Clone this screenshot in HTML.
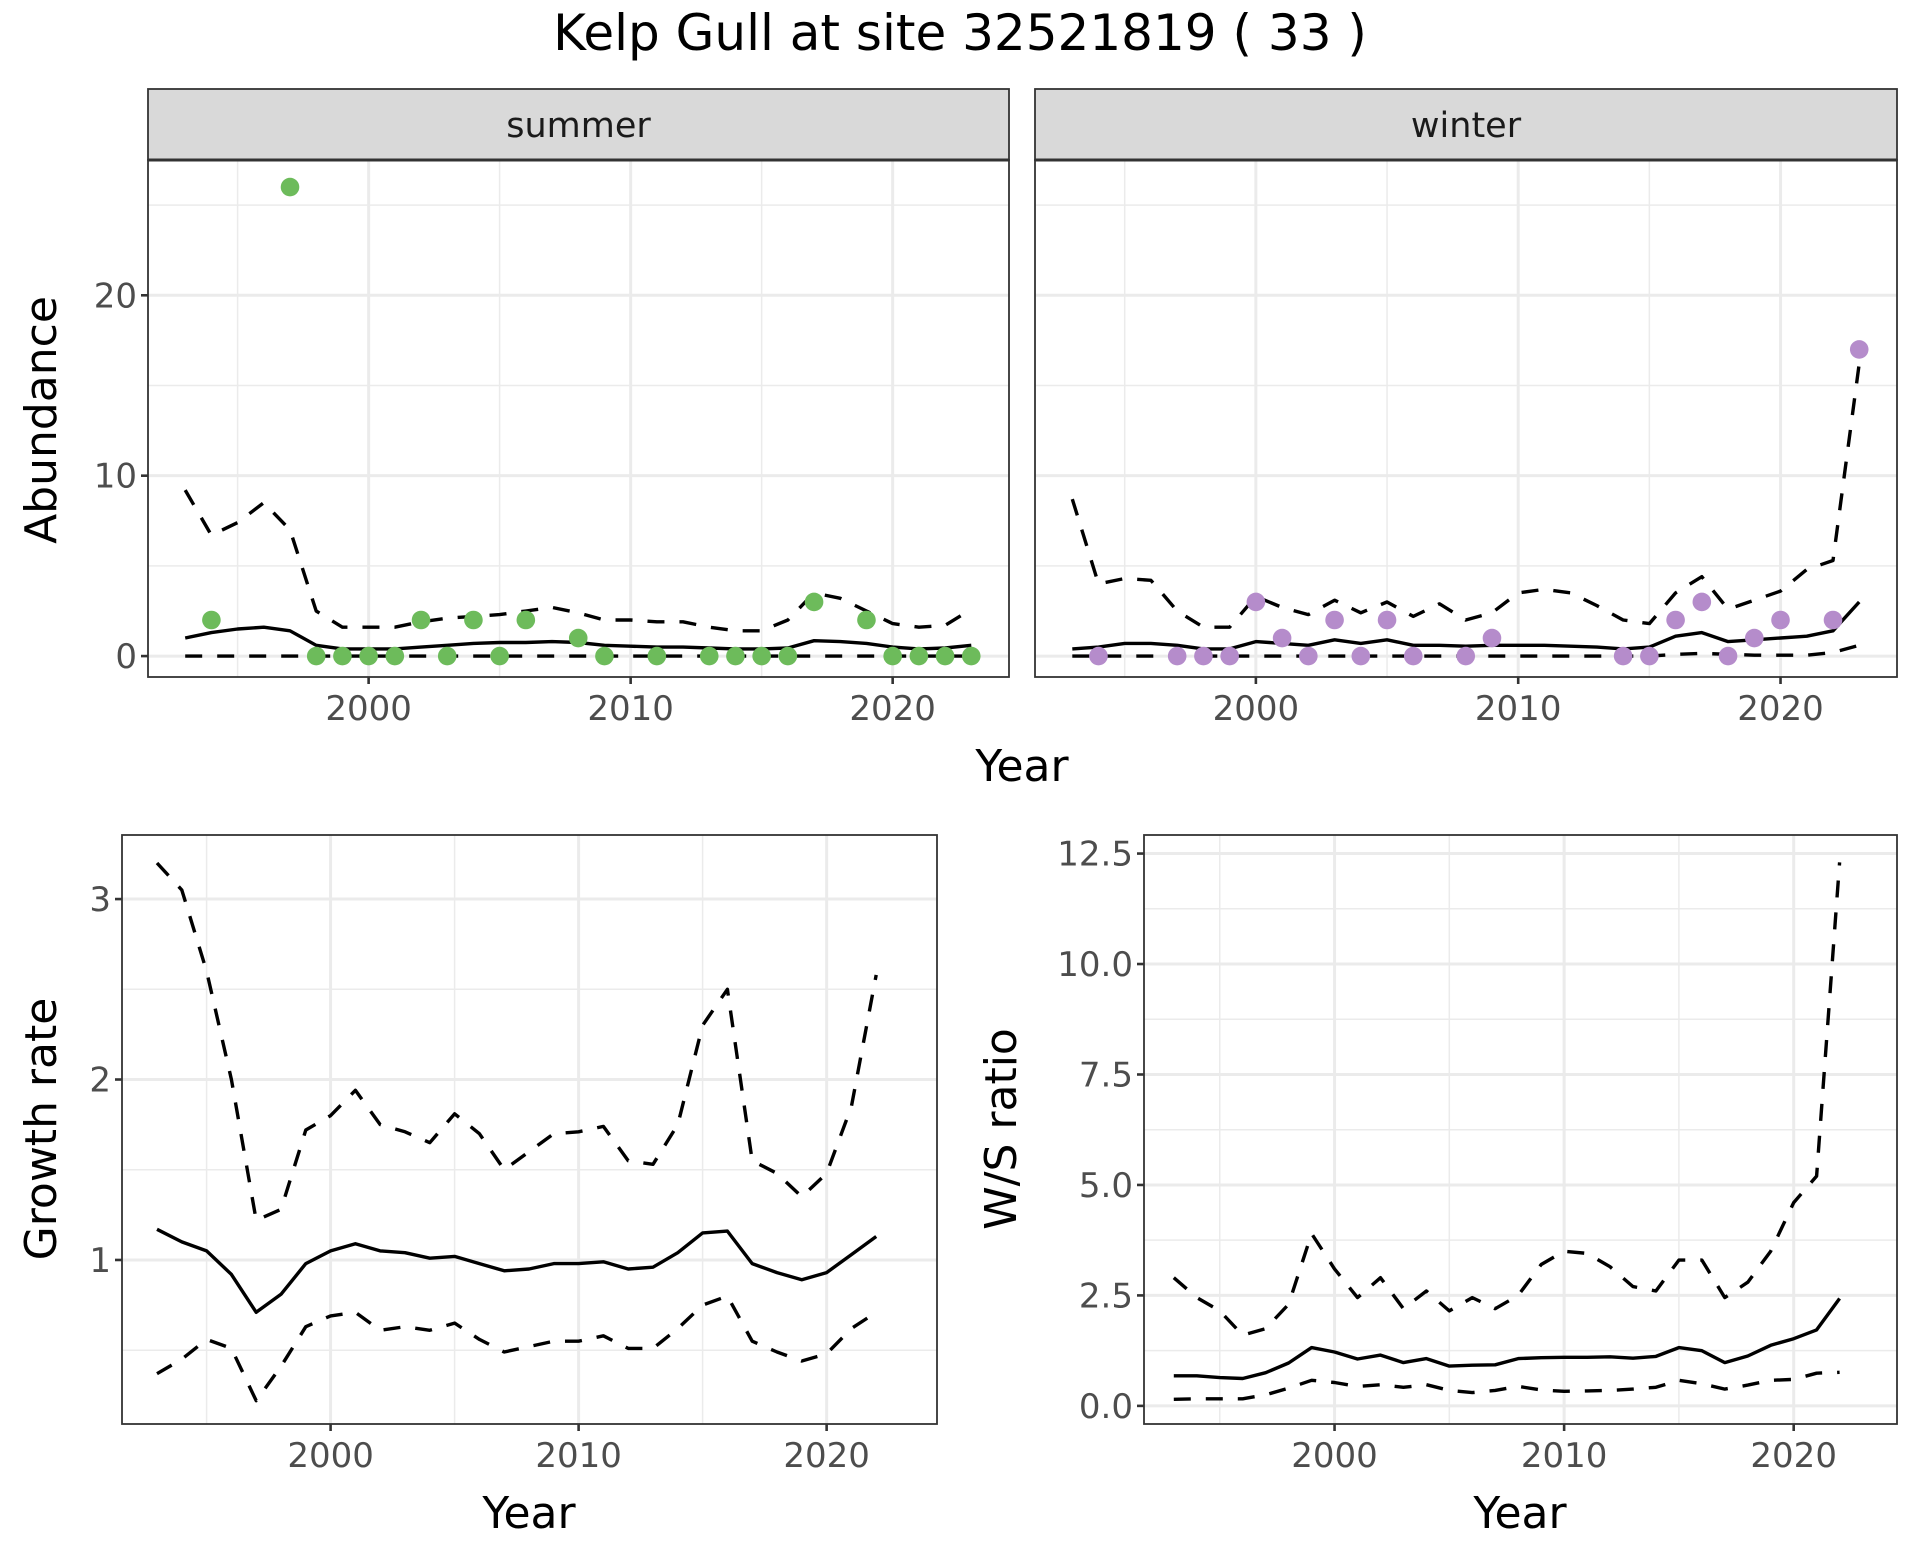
<!DOCTYPE html>
<html><head><meta charset="utf-8"><style>
html,body{margin:0;padding:0;background:#fff}
svg text{font-family:"DejaVu Sans","Liberation Sans",sans-serif}
</style></head><body>
<svg id="chart" width="1920" height="1560" viewBox="0 0 1920 1560" xmlns="http://www.w3.org/2000/svg">
<rect width="1920" height="1560" fill="#fff"/>
<text x="960" y="50" text-anchor="middle" font-size="50" fill="#000">Kelp Gull at site 32521819 ( 33 )</text>
</svg>
<script>
const yearsA = [1993,1994,1995,1996,1997,1998,1999,2000,2001,2002,2003,2004,2005,2006,2007,2008,2009,2010,2011,2012,2013,2014,2015,2016,2017,2018,2019,2020,2021,2022,2023];
const summerPtYears = [1994,1997,1998,1999,2000,2001,2002,2003,2004,2005,2006,2008,2009,2011,2013,2014,2015,2016,2017,2019,2020,2021,2022,2023];
const summerPtVals = [2,26,0,0,0,0,2,0,2,0,2,1,0,0,0,0,0,0,3,2,0,0,0,0];
const summerMean = [1.0,1.3,1.5,1.6,1.4,0.6,0.4,0.4,0.4,0.5,0.6,0.7,0.75,0.75,0.8,0.75,0.6,0.55,0.5,0.5,0.45,0.4,0.4,0.45,0.85,0.8,0.7,0.5,0.4,0.45,0.6];
const summerUpper = [9.2,6.7,7.4,8.5,7.0,2.5,1.6,1.6,1.6,1.9,2.1,2.2,2.3,2.5,2.7,2.4,2.0,2.0,1.9,1.9,1.6,1.4,1.4,2.0,3.5,3.2,2.5,1.8,1.6,1.7,2.6];
const summerLower = [0,0,0,0,0,0,0,0,0,0,0,0,0,0,0,0,0,0,0,0,0,0,0,0,0,0,0,0,0,0,0];
const winterPtYears = [1994,1997,1998,1999,2000,2001,2002,2003,2004,2005,2006,2008,2009,2014,2015,2016,2017,2018,2019,2020,2022,2023];
const winterPtVals = [0,0,0,0,3,1,0,2,0,2,0,0,1,0,0,2,3,0,1,2,2,17];
const winterMean = [0.4,0.5,0.7,0.7,0.6,0.4,0.4,0.8,0.7,0.6,0.9,0.7,0.9,0.6,0.6,0.55,0.6,0.6,0.6,0.55,0.5,0.4,0.5,1.1,1.3,0.8,0.9,1.0,1.1,1.4,3.0];
const winterUpper = [8.7,4.0,4.3,4.2,2.5,1.6,1.6,3.3,2.7,2.3,3.1,2.4,3.0,2.2,2.9,2.0,2.4,3.5,3.7,3.5,2.8,2.0,1.8,3.5,4.4,2.6,3.1,3.6,4.8,5.3,16.2];
const winterLower = [0,0,0,0,0,0,0,0,0,0,0,0,0,0,0,0,0,0,0,0,0,0,0,0.1,0.15,0.1,0.05,0.05,0.05,0.2,0.6];
const yearsB = [1993,1994,1995,1996,1997,1998,1999,2000,2001,2002,2003,2004,2005,2006,2007,2008,2009,2010,2011,2012,2013,2014,2015,2016,2017,2018,2019,2020,2021,2022];
const growthMean = [1.17,1.10,1.05,0.92,0.71,0.81,0.98,1.05,1.09,1.05,1.04,1.01,1.02,0.98,0.94,0.95,0.98,0.98,0.99,0.95,0.96,1.04,1.15,1.16,0.98,0.93,0.89,0.93,1.03,1.13];
const growthUpper = [3.2,3.05,2.6,2.0,1.22,1.28,1.72,1.8,1.94,1.75,1.71,1.65,1.81,1.7,1.5,1.6,1.7,1.71,1.74,1.55,1.53,1.75,2.3,2.5,1.55,1.48,1.35,1.48,1.85,2.58];
const growthLower = [0.37,0.45,0.56,0.51,0.22,0.41,0.63,0.69,0.71,0.61,0.63,0.61,0.65,0.56,0.49,0.52,0.55,0.55,0.58,0.51,0.51,0.62,0.75,0.8,0.55,0.49,0.44,0.48,0.62,0.71];
const ratioMean = [0.68,0.68,0.64,0.62,0.75,0.97,1.32,1.22,1.06,1.15,0.98,1.07,0.9,0.92,0.93,1.07,1.09,1.1,1.1,1.11,1.08,1.12,1.32,1.25,0.98,1.13,1.37,1.52,1.72,2.43];
const ratioUpper = [2.9,2.45,2.15,1.6,1.75,2.3,3.9,3.1,2.45,2.9,2.2,2.6,2.15,2.45,2.2,2.5,3.2,3.5,3.45,3.15,2.7,2.6,3.3,3.3,2.45,2.8,3.5,4.6,5.2,12.3];
const ratioLower = [0.15,0.16,0.16,0.16,0.25,0.4,0.58,0.53,0.44,0.48,0.42,0.48,0.35,0.3,0.35,0.44,0.36,0.33,0.34,0.35,0.38,0.42,0.58,0.5,0.38,0.47,0.58,0.6,0.74,0.76];
const xTickVals = [2000,2010,2020];
const xMinorVals = [1995,2005,2015];
const abTicks = [0,10,20];
const abMinor = [5,15,25];
const grTicks = [1,2,3];
const grMinor = [0.5,1.5,2.5];
const raTicks = [0,2.5,5,7.5,10,12.5];
const raTickLabels = ["0.0","2.5","5.0","7.5","10.0","12.5"];
const raMinor = [1.25,3.75,6.25,8.75,11.25];

const NS="http://www.w3.org/2000/svg";
const svg=document.getElementById('chart');
function mk(tag,attrs,parent){const e=document.createElementNS(NS,tag);for(const k in attrs)e.setAttribute(k,attrs[k]);(parent||svg).appendChild(e);return e;}

function panel(p){
  const g=mk('g',{});
  
  
  const sx=v=>p.x0+(v-p.xmin)/(p.xmax-p.xmin)*(p.x1-p.x0);
  const sy=v=>p.y1-(v-p.ymin)/(p.ymax-p.ymin)*(p.y1-p.y0);
  mk('rect',{x:p.x0,y:p.y0,width:p.x1-p.x0,height:p.y1-p.y0,fill:'#fff'},g);
  p.yMinor.forEach(v=>{const l=mk('line',{x1:p.x0,x2:p.x1,y1:sy(v),y2:sy(v),stroke:'#ebebeb','stroke-width':1.5},g);});
  xMinorVals.forEach(v=>{const l=mk('line',{x1:sx(v),x2:sx(v),y1:p.y0,y2:p.y1,stroke:'#ebebeb','stroke-width':1.5},g);});
  p.yTicks.forEach(v=>{const l=mk('line',{x1:p.x0,x2:p.x1,y1:sy(v),y2:sy(v),stroke:'#ebebeb','stroke-width':3},g);});
  xTickVals.forEach(v=>{const l=mk('line',{x1:sx(v),x2:sx(v),y1:p.y0,y2:p.y1,stroke:'#ebebeb','stroke-width':3},g);});
  const line=(xs,ys,dash,nm)=>{const d=xs.map((x,i)=>(i?'L':'M')+sx(x).toFixed(1)+','+sy(ys[i]).toFixed(1)).join('');const a={d:d,fill:'none',stroke:'#000','stroke-width':3.4,'stroke-linejoin':'round'};if(dash)a['stroke-dasharray']='17,15';const e=mk('path',a,g);};
  line(p.years,p.mean,false,'mean-line');
  line(p.years,p.upper,true,'upper-ci-line');
  line(p.years,p.lower,true,'lower-ci-line');
  if(p.ptYears){p.ptYears.forEach((yr,i)=>{const c=mk('circle',{cx:sx(yr),cy:sy(p.ptVals[i]),r:9.3,fill:p.color},g);});}
  mk('rect',{x:p.x0,y:p.y0,width:p.x1-p.x0,height:p.y1-p.y0,fill:'none',stroke:'#333','stroke-width':1.8},g);
  xTickVals.forEach(v=>{mk('line',{x1:sx(v),x2:sx(v),y1:p.y1,y2:p.y1+7,stroke:'#333','stroke-width':2.6},g);const t=mk('text',{x:sx(v),y:p.y1+43,'text-anchor':'middle','font-size':34,fill:'#4d4d4d'},g);t.textContent=v;});
  if(p.showY){p.yTicks.forEach((v,i)=>{mk('line',{x1:p.x0-7,x2:p.x0,y1:sy(v),y2:sy(v),stroke:'#333','stroke-width':2.6},g);const t=mk('text',{x:p.x0-11,y:sy(v)+12,'text-anchor':'end','font-size':34,fill:'#4d4d4d'},g);t.textContent=p.yLabels?p.yLabels[i]:v;});}
  if(p.strip){const s=mk('rect',{x:p.x0,y:89,width:p.x1-p.x0,height:p.y0-89,fill:'#d9d9d9',stroke:'#333','stroke-width':1.8},g);mk('line',{x1:p.x0,x2:p.x1,y1:p.y0,y2:p.y0,stroke:'#333','stroke-width':3},g);const t=mk('text',{x:(p.x0+p.x1)/2,y:137,'text-anchor':'middle','font-size':35,fill:'#1a1a1a'},g);t.textContent=p.strip;}
}
panel({name:'summer-panel',x0:148,x1:1009,y0:160,y1:677,xmin:1991.58,xmax:2024.44,ymin:-1.16,ymax:27.5,years:yearsA,mean:summerMean,upper:summerUpper,lower:summerLower,ptYears:summerPtYears,ptVals:summerPtVals,color:'#6dbb5b',yTicks:abTicks,yMinor:abMinor,showY:true,strip:'summer'});
panel({name:'winter-panel',x0:1035,x1:1897,y0:160,y1:677,xmin:1991.58,xmax:2024.44,ymin:-1.16,ymax:27.5,years:yearsA,mean:winterMean,upper:winterUpper,lower:winterLower,ptYears:winterPtYears,ptVals:winterPtVals,color:'#b58ccb',yTicks:abTicks,yMinor:abMinor,showY:false,strip:'winter'});
panel({name:'growth-panel',x0:122,x1:937,y0:835,y1:1424,xmin:1991.59,xmax:2024.45,ymin:0.091,ymax:3.355,years:yearsB,mean:growthMean,upper:growthUpper,lower:growthLower,yTicks:grTicks,yMinor:grMinor,showY:true});
panel({name:'ratio-panel',x0:1144,x1:1897,y0:835,y1:1424,xmin:1991.7,xmax:2024.5,ymin:-0.41,ymax:12.92,years:yearsB,mean:ratioMean,upper:ratioUpper,lower:ratioLower,yTicks:raTicks,yLabels:raTickLabels,yMinor:raMinor,showY:true});
function title(txt,x,y,rot,nm){const t=mk('text',{x:x,y:y,'text-anchor':'middle','font-size':44,fill:'#000'});if(rot)t.setAttribute('transform','rotate(-90 '+x+' '+y+')');t.textContent=txt;}
title('Abundance',56,420,true,'y-axis-title-abundance');
title('Year',1022,781,false,'x-axis-title-top');
title('Growth rate',56,1129,true,'y-axis-title-growth');
title('Year',529,1528,false,'x-axis-title-growth');
title('W/S ratio',1016,1129,true,'y-axis-title-ratio');
title('Year',1520,1528,false,'x-axis-title-ratio');
</script>
</body></html>
